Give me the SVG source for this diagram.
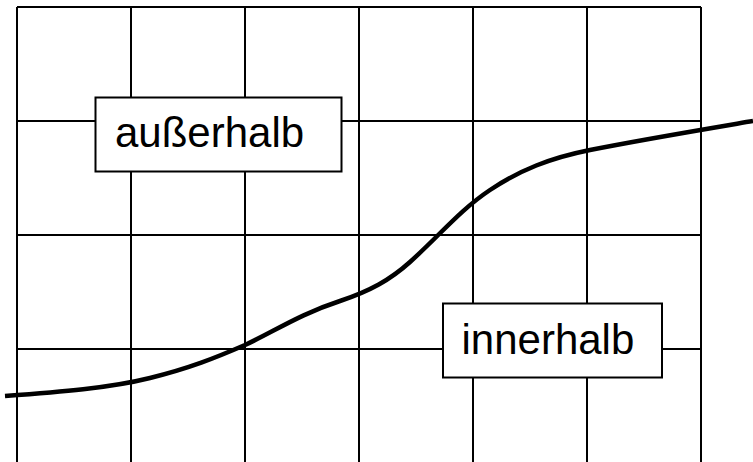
<svg xmlns="http://www.w3.org/2000/svg" width="753" height="462" viewBox="0 0 753 462">
<style>
.grid{stroke:#000;stroke-width:2;fill:none}
.box{fill:#fff;stroke:#000;stroke-width:2}
.lbl{font-family:"Liberation Sans",Arial,sans-serif;font-size:42px;fill:#000}
.curve{fill:none;stroke:#000;stroke-width:4.5;stroke-linecap:butt}
</style>
<rect width="753" height="462" fill="#fff"/>
<g id="grid" class="grid">
<path d="M17,7V462M131,7V462M245,7V462M359,7V462M473,7V462M587,7V462M701,7V462"/>
<path d="M17,7H701M17,121H701M17,235H701M17,349H701"/>
</g>
<g id="connectors">
<path class="curve" d="M5,396 C60,392 110,388 150,378 C190,368 215,358 245,345 C275,331 300,314 340,301 C370,291 390,280 410,262 C440,235 460,210 490,190 C520,170 550,158 590,150 C640,140 700,130 753,121"/>
</g>
<g id="ausserhalb">
<rect class="box" x="95.5" y="97.5" width="246" height="74"/>
<text class="lbl" x="115" y="147">außerhalb</text>
</g>
<g id="innerhalb">
<rect class="box" x="443" y="303.5" width="219" height="74"/>
<text class="lbl" x="461.5" y="354">innerhalb</text>
</g>
</svg>
